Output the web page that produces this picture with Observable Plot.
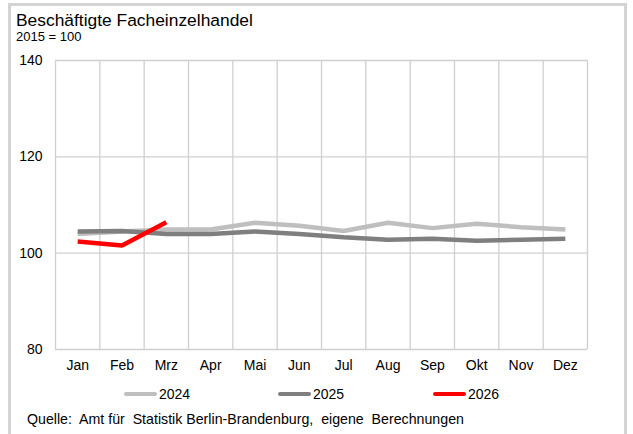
<!DOCTYPE html>
<html>
<head>
<meta charset="utf-8">
<script src="https://cdn.jsdelivr.net/npm/d3@7"></script>
<script src="https://cdn.jsdelivr.net/npm/@observablehq/plot@0.6"></script>
<style>
  html, body { margin: 0; padding: 0; background: #fff; }
  #wrap { position: relative; width: 633px; height: 434px; overflow: hidden; font-family: "Liberation Sans", Arial, sans-serif; color: #000; }
  #frame { position: absolute; left: 8px; top: 3px; width: 619px; height: 460px; border: 3px solid #d4d4d4; box-sizing: border-box; }
  #chart { position: absolute; left: 0; top: 0; }
  .txt { position: absolute; white-space: pre; line-height: 1; }
  #title { left: 16px; top: 12px; font-size: 17.4px; }
  #subtitle { left: 16px; top: 30px; font-size: 13px; }
  #caption { left: 27px; top: 412px; font-size: 14.2px; }
  .leg { position: absolute; top: 387px; height: 14px; display: flex; align-items: center; font-size: 14px; }
  .sw { width: 33px; height: 4px; border-radius: 2px; margin-right: 2px; }
</style>
</head>
<body>
<div id="wrap">
  <div id="frame"></div>
  <div id="chart"></div>
  <div class="txt" id="title">Beschäftigte Facheinzelhandel</div>
  <div class="txt" id="subtitle">2015 = 100</div>
  <div id="legend"></div>
  <div class="txt" id="caption">Quelle:  Amt für  Statistik Berlin-Brandenburg,  eigene  Berechnungen</div>
</div>
<script>
const months = ["Jan","Feb","Mrz","Apr","Mai","Jun","Jul","Aug","Sep","Okt","Nov","Dez"];
const years = ["2024","2025","2026"];
const v2024 = [104.0, 104.5, 104.9, 104.9, 106.3, 105.7, 104.6, 106.3, 105.2, 106.1, 105.4, 104.9];
const v2025 = [104.5, 104.6, 104.0, 104.0, 104.5, 104.0, 103.3, 102.8, 103.0, 102.6, 102.8, 103.0];
const v2026 = [102.4, 101.6, 106.4];
const yTicks = [80, 100, 120, 140];
const colors = ["#bfbfbf", "#7f7f7f", "#ff0000"];

const series = [v2024, v2025, v2026];
const data = series.flatMap((vals, s) => vals.map((v, i) => ({year: years[s], m: i + 1, v})));
const bounds = d3.range(0, months.length + 1).map(i => i + 0.5);

const chart = Plot.plot({
  width: 633,
  height: 434,
  marginLeft: 55,
  marginRight: 46,
  marginTop: 60,
  marginBottom: 85,
  style: {fontFamily: '"Liberation Sans", Arial, sans-serif', fontSize: "14px", color: "#000", background: "transparent", overflow: "visible"},
  x: {domain: [0.5, months.length + 0.5], ticks: months.map((d, i) => i + 1), tickFormat: i => months[i - 1], tickSize: 0, tickPadding: 11, label: null},
  y: {domain: [yTicks[0], yTicks[yTicks.length - 1]], ticks: yTicks, tickSize: 0, tickPadding: 13, label: null},
  color: {domain: years, range: colors},
  marks: [
    Plot.ruleY(yTicks, {stroke: "#d0d0d0", strokeWidth: 1.3}),
    Plot.ruleX(bounds, {stroke: "#d0d0d0", strokeWidth: 1.3}),
    Plot.line(data, {x: "m", y: "v", z: "year", stroke: "year", strokeWidth: 4.5, strokeLinejoin: "miter", strokeLinecap: "butt"})
  ]
});
document.getElementById("chart").appendChild(chart);

const legendX = [124, 278, 433];
const legend = document.getElementById("legend");
years.forEach((y, i) => {
  const el = document.createElement("div");
  el.className = "leg";
  el.style.left = legendX[i] + "px";
  el.innerHTML = `<div class="sw" style="background:${colors[i]}"></div><span>${y}</span>`;
  legend.appendChild(el);
});
</script>
</body>
</html>
